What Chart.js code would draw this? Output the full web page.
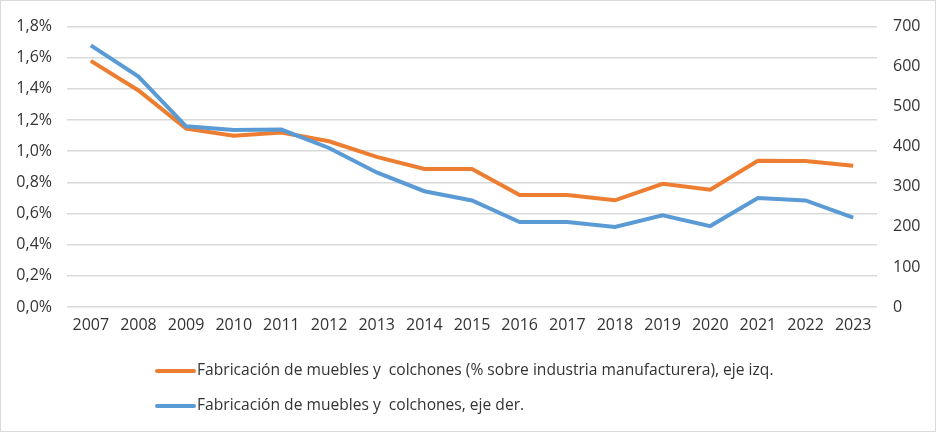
<!DOCTYPE html>
<html>
<head>
<meta charset="utf-8">
<script src="https://cdn.jsdelivr.net/npm/chart.js@4.4.0/dist/chart.umd.min.js"></script>
<style>
    html, body { margin: 0; padding: 0; background: #fff; }
    #wrap { width: 934px; height: 430px; border: 1px solid #d9d9d9; position: relative; }
</style>
</head>
<body>
<div id="wrap"><canvas id="chart" width="934" height="430"></canvas></div>
<script>
    // Datos
    const years = ['2007', '2008', '2009', '2010', '2011', '2012', '2013', '2014', '2015',
        '2016', '2017', '2018', '2019', '2020', '2021', '2022', '2023'];
    const pctManufactura = [1.58, 1.39, 1.145, 1.10, 1.12, 1.064, 0.964, 0.886, 0.886,
        0.719, 0.719, 0.685, 0.791, 0.753, 0.939, 0.937, 0.907];
    const empresas = [653, 575, 451, 442, 443, 397, 336, 289, 266,
        212, 212, 200, 229, 202, 272, 266, 223];
    const leftTicks = [0, 0.2, 0.4, 0.6, 0.8, 1.0, 1.2, 1.4, 1.6, 1.8];
    const rightTicks = [0, 100, 200, 300, 400, 500, 600, 700];

    const labelOrange = 'Fabricación de muebles y  colchones (% sobre industria manufacturera), eje izq.';
    const labelBlue = 'Fabricación de muebles y  colchones, eje der.';

    const FONT = "'Open Sans', sans-serif";
    const TEXT = '#333333';
    Chart.defaults.font.family = FONT;
    Chart.defaults.font.size = 16;
    Chart.defaults.color = TEXT;

    // Leyenda dibujada a mano (dos filas)
    const legendRows = {
        id: 'legendRows',
        afterDraw(chart) {
            const ctx = chart.ctx;
            const base = chart.chartArea.bottom;
            const rows = [chart.data.datasets[0], chart.data.datasets[1]];
            ctx.save();
            ctx.font = '15.6px ' + FONT;
            ctx.textBaseline = 'middle';
            ctx.fillStyle = TEXT;
            rows.forEach((ds, i) => {
                const y = base + 64 + i * 35;
                ctx.strokeStyle = ds.borderColor;
                ctx.lineWidth = 4;
                ctx.lineCap = 'round';
                ctx.beginPath();
                ctx.moveTo(156, y);
                ctx.lineTo(193, y);
                ctx.stroke();
                ctx.fillText(ds.label, 196, y);
            });
            ctx.restore();
        }
    };

    new Chart(document.getElementById('chart'), {
        type: 'line',
        data: {
            labels: years,
            datasets: [{
                label: labelOrange,
                data: pctManufactura,
                yAxisID: 'y',
                borderColor: '#ED7D31',
                backgroundColor: '#ED7D31',
                borderWidth: 4,
                pointRadius: 0,
                tension: 0,
                order: 1
            }, {
                label: labelBlue,
                data: empresas,
                yAxisID: 'y1',
                borderColor: '#5B9BD5',
                backgroundColor: '#5B9BD5',
                borderWidth: 4,
                pointRadius: 0,
                tension: 0,
                order: 0
            }]
        },
        options: {
            responsive: false,
            animation: false,
            layout: { padding: { top: 22, bottom: 94, left: 0, right: 0 } },
            plugins: {
                legend: { display: false },
                tooltip: { enabled: false }
            },
            scales: {
                x: {
                    offset: true,
                    grid: { display: false, drawTicks: false },
                    border: { display: false },
                    ticks: { padding: 9, maxRotation: 0, autoSkip: false },
                    afterFit(scale) { scale.height = 30; }
                },
                y: {
                    position: 'left',
                    min: 0,
                    max: 1.8,
                    afterBuildTicks(scale) { scale.ticks = leftTicks.map(v => ({ value: v })); },
                    ticks: {
                        padding: 15,
                        callback: v => v.toFixed(1).replace('.', ',') + '%'
                    },
                    grid: { color: '#d9d9d9', lineWidth: 1.5, drawTicks: false },
                    border: { display: false },
                    afterFit(scale) { scale.width = 66; }
                },
                y1: {
                    position: 'right',
                    min: 0,
                    max: 700,
                    afterBuildTicks(scale) { scale.ticks = rightTicks.map(v => ({ value: v })); },
                    ticks: { padding: 16 },
                    grid: { display: false, drawTicks: false },
                    border: { display: false },
                    afterFit(scale) { scale.width = 58; }
                }
            }
        },
        plugins: [legendRows]
    });
</script>
</body>
</html>
